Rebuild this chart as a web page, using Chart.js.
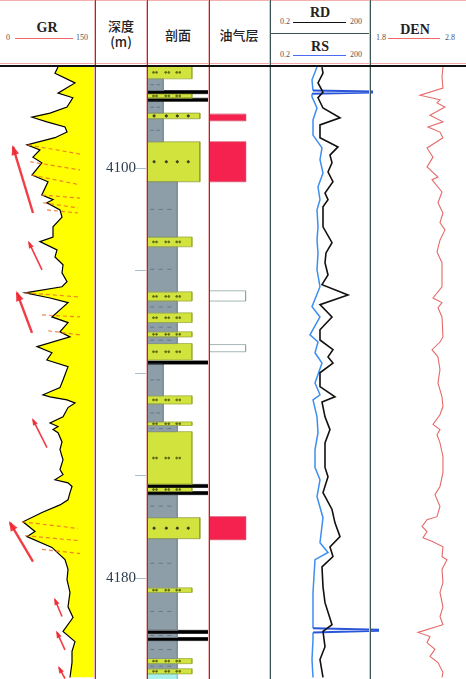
<!DOCTYPE html>
<html>
<head>
<meta charset="utf-8">
<script src="https://cdn.jsdelivr.net/npm/chart.js"></script>
<style>
html, body { margin: 0; padding: 0; background: #fff; }
#wrap { position: relative; width: 466px; height: 679px; overflow: hidden; background: #fff;
  font-family: "Noto Sans CJK SC", sans-serif; color: #222; }
.trk { position: absolute; top: 66px; }
.t { position: absolute; white-space: nowrap; transform: translate(-50%, -50%); line-height: 1; }
.lat { font-family: "Liberation Serif", serif; font-weight: bold; font-size: 14px; }
.num { font-family: "Liberation Serif", serif; font-size: 8px; color: #555; }
.cjk { font-size: 13px; font-weight: 500; }
.hl { position: absolute; height: 1px; }
.vl { position: absolute; top: 0; width: 1px; height: 679px; background: #3c5656; box-shadow: -1px 0 0 #f2b8b8; z-index: 5; }
</style>
</head>
<body>
<div id="wrap">
  <!-- header -->
  <div class="hl" style="left:0;top:0;width:466px;background:#f2b0b0"></div>
  <div class="t lat" style="left:47px;top:28px">GR</div>
  <div class="t num" style="left:8px;top:38px">0</div>
  <div class="hl" style="left:15px;top:38px;width:58px;background:#f06868"></div>
  <div class="t num" style="left:82px;top:38px">150</div>

  <div class="t cjk" style="left:121px;top:25px">深度</div>
  <div class="t cjk" style="left:121px;top:41px">(m)</div>
  <div class="t cjk" style="left:178px;top:34px">剖面</div>
  <div class="t cjk" style="left:239px;top:34px">油气层</div>

  <div class="t lat" style="left:320px;top:13px">RD</div>
  <div class="t num" style="left:285px;top:22px">0.2</div>
  <div class="hl" style="left:293px;top:22px;width:53px;background:#111"></div>
  <div class="t num" style="left:356px;top:22px">200</div>
  <div class="hl" style="left:270px;top:33px;width:100px;background:#3c5656"></div>
  <div class="t lat" style="left:320px;top:47px">RS</div>
  <div class="t num" style="left:285px;top:55px">0.2</div>
  <div class="hl" style="left:293px;top:55px;width:53px;background:#4a6cf0"></div>
  <div class="t num" style="left:356px;top:55px">200</div>

  <div class="t lat" style="left:415px;top:30px">DEN</div>
  <div class="t num" style="left:381px;top:38px">1.8</div>
  <div class="hl" style="left:388px;top:38px;width:52px;background:#f06868"></div>
  <div class="t num" style="left:450px;top:38px">2.8</div>

  <div class="hl" style="left:0;top:63px;width:466px;background:#f2a8a8"></div>
  <div class="hl" style="left:0;top:65px;width:466px;height:2px;background:#111;z-index:6"></div>

  <!-- tracks -->
  <div class="trk" style="left:0"><canvas id="gr" width="95" height="613"></canvas></div>
  <div class="trk" style="left:96px"><canvas id="dep" width="52" height="613"></canvas></div>
  <div class="trk" style="left:148px"><canvas id="lit" width="61" height="613"></canvas></div>
  <div class="trk" style="left:209px"><canvas id="oil" width="61" height="613"></canvas></div>
  <div class="trk" style="left:370px"><canvas id="den" width="96" height="613"></canvas></div>
  <div class="trk" style="left:270px"><canvas id="res" width="112" height="613"></canvas></div>

  <div class="vl" style="left:95px"></div>
  <div class="vl" style="left:147px"></div>
  <div class="vl" style="left:209px"></div>
  <div class="vl" style="left:270px"></div>
  <div class="vl" style="left:370px"></div>
</div>

<script>
// depth window and depth ticks
var depthMin = 4080, depthMax = 4199.7;
var depthTicks = [4100, 4120, 4140, 4160, 4180];
var depthLabels = [4100, 4180];

// GR curve (API)
var grDepth = [4080.2,4081.4,4083.3,4085.3,4086.2,4088.0,4089.2,4090.0,4090.9,4091.9,4092.9,4094.0,4095.4,4096.4,4097.8,4098.9,
  4101.3,4102.6,4105.2,4106.1,4106.7,4108.1,4109.5,4111.4,4113.4,4114.3,4115.9,4117.3,4118.8,4120.4,4122.1,4123.1,4124.3,4125.3,
  4126.2,4129.0,4130.1,4131.9,4132.9,4134.8,4136.0,4137.4,4138.7,4141.3,4142.8,4144.2,4144.6,4145.2,4145.8,4146.7,4148.5,4149.7,
  4150.4,4151.0,4151.6,4153.4,4154.9,4156.9,4158.8,4159.8,4160.8,4161.4,4162.1,4163.3,4164.7,4165.7,4167.2,4169.0,4170.9,4171.9,
  4174.0,4176.4,4178.3,4180.3,4182.8,4185.6,4187.7,4190.4,4192.4,4194.3,4196.5,4199.4];
var grValue = [91.6,86.8,118.4,91.6,115,105.8,79,50.5,74,102.6,105.8,86.8,42.6,63,52,66,
  50.5,75.8,66,83.7,74,94.7,97.9,83.7,83.7,63,90,86.8,99.5,97.9,105.8,97.9,39.5,79,
  107.4,82,107.4,94.7,110.5,58.4,82,74,107.4,99.5,94.7,67.9,79,105.8,118.4,107.4,99.5,79,
  91.6,83.7,91.6,97.9,94.7,99.5,94.7,99.5,86.8,107.4,113.7,110.5,107.4,94.7,66.3,36.3,55.3,42.6,
  82,102.6,107.4,105.8,110.5,107.4,115.3,99.5,118.4,113.7,113.7,110.5];

// dashed marker lines in the GR track (start / end)
var dashDepthA = [4095.4,4098.7,4101.3,4105.2,4106.7,4108.1,4124.3,4128.6,4131.7,4169.0,4171.7,4174.4];
var dashGrA    = [44.2,47.4,50.5,66.3,67.9,74.2,39.5,66.3,75.8,34.7,39.5,66.3];
var dashDepthB = [4097.2,4100.3,4103.2,4105.8,4107.7,4108.7,4125.1,4129.0,4132.5,4170.3,4172.7,4175.2];
var dashGrB    = [126.3,126.3,126.3,126.3,123.2,123.2,126.3,126.3,126.3,123.2,126.3,126.3];

// trend arrows in the GR track (tail -> head)
var arrowTailDepth = [4108.7,4119.8,4132.1,4154.5,4176.8,4187.5,4194.0,4199.6];
var arrowTailGr    = [52.1,66.3,50.5,74.2,52.1,97.9,102.6,102.6];
var arrowHeadDepth = [4095.8,4114.5,4124.3,4149.1,4169.2,4184.2,4190.6,4197.5];
var arrowHeadGr    = [20.5,45.8,26.8,52.1,15.8,86.8,90,93.2];
var arrowBig       = [1,0,1,0,1,0,0,0];

// resistivity (ohm.m)
var rdDepth = [4080.2,4081.4,4083.3,4085.1,4086.2,4088.2,4090.1,4091.5,4094.0,4095.8,4097.4,4098.9,4100.7,4102.6,4104.8,4106.1,
  4107.5,4111.4,4114.5,4116.5,4118.4,4120.8,4122.7,4124.7,4126.6,4129.0,4131.5,4133.5,4135.4,4136.8,4138.0,4139.9,4142.6,4144.6,
  4145.6,4148.5,4151.0,4153.6,4158.4,4160.2,4163.3,4166.6,4169.2,4171.9,4173.9,4175.8,4177.8,4181.7,4184.8,4189.1,4190.4,4193.4,
  4195.9,4199.4];
var rdValue = [7.26,7.78,5.51,7.78,5.51,7.78,25.2,6.32,6.32,21.9,12.6,14.5,11.0,15.5,8.93,11.0,
  7.78,7.78,14.5,9.57,8.93,11.0,7.26,43.8,6.32,14.5,6.32,6.32,15.5,11.0,15.5,6.32,6.32,17.8,
  7.26,8.93,12.6,8.93,8.93,11.0,7.78,14.5,17.8,25.2,12.6,15.5,7.26,7.78,8.93,14.5,7.78,8.93,
  6.32,7.78];
var rsDepth = [4080.2,4082.7,4084.8,4085.0,4085.2,4085.4,4086.0,4088.2,4090.5,4093.5,4096.0,4098.3,4100.9,4103.6,4106.1,4108.1,
  4111.4,4114.0,4116.5,4119.8,4123.1,4127.0,4129.0,4132.5,4133.9,4136.0,4138.0,4141.9,4144.2,4145.2,4148.5,4151.6,4154.9,4158.4,
  4160.8,4164.1,4168.2,4173.1,4175.0,4176.4,4182.8,4189.8,4190.1,4190.3,4190.6,4192.0,4195.9,4199.4];
var rsValue = [5.14,3.64,3.90,230,230,3.64,3.64,5.14,3.90,3.90,7.26,6.32,7.78,5.51,6.32,5.14,
  5.51,5.14,5.51,5.14,6.32,3.64,6.32,3.17,5.51,4.48,7.26,4.48,6.32,3.90,5.14,5.51,4.48,4.48,
  6.32,5.14,7.78,6.32,11.0,4.48,3.90,3.90,348,348,3.90,3.90,3.64,3.90];

// density (g/cm3)
var denDepth = [4080.2,4082.1,4084.3,4085.7,4086.6,4087.2,4088.0,4089.6,4090.9,4091.9,4092.9,4094.0,4096.0,4097.8,4099.7,4101.7,
  4102.2,4104.6,4106.7,4108.7,4110.6,4112.0,4114.0,4116.3,4118.4,4123.1,4125.3,4126.2,4127.2,4129.0,4132.9,4133.9,4135.4,4136.8,
  4139.3,4141.9,4144.6,4146.5,4148.1,4150.0,4151.0,4152.0,4153.6,4156.3,4159.4,4162.1,4163.7,4166.0,4168.0,4168.6,4169.9,4170.9,
  4172.1,4172.9,4173.9,4175.8,4176.4,4178.3,4180.9,4182.8,4185.6,4187.5,4189.1,4190.6,4191.4,4192.6,4193.9,4195.3,4196.5,4198.4,
  4199.4];
var denValue = [2.560,2.550,2.560,2.321,2.529,2.498,2.581,2.425,2.560,2.404,2.529,2.560,2.394,2.456,2.394,2.508,
  2.446,2.550,2.508,2.560,2.529,2.581,2.529,2.498,2.550,2.550,2.456,2.550,2.508,2.550,2.560,2.529,2.446,2.508,
  2.529,2.508,2.550,2.560,2.529,2.456,2.529,2.498,2.529,2.560,2.560,2.529,2.477,2.529,2.498,2.394,2.342,2.394,
  2.352,2.456,2.560,2.550,2.602,2.550,2.560,2.529,2.560,2.529,2.560,2.300,2.425,2.394,2.477,2.425,2.508,2.560,
  2.550];

// lithology column: s sand, o oil sand, n/m shale, c coal, q other
var litTop = [4080.0,4082.5,4084.8,4085.4,4086.3,4086.9,4089.2,4090.3,4094.8,4102.6,4113.4,4115.3,4124.1,4125.9,4128.2,4130.1,
  4131.9,4132.9,4134.2,4137.6,4138.2,4144.4,4146.0,4149.5,4150.2,4151.4,4161.7,4162.3,4163.1,4163.7,4168.2,4172.3,4181.9,4182.8,
  4190.2,4190.8,4191.6,4192.2,4195.7,4196.7,4197.7,4198.7];
var litBot = [4082.5,4084.8,4085.4,4086.3,4086.9,4089.2,4090.3,4094.8,4102.6,4113.4,4115.3,4124.1,4125.9,4128.2,4130.1,4131.9,
  4132.9,4134.2,4137.4,4138.2,4144.4,4146.0,4149.5,4150.2,4151.4,4161.7,4162.3,4163.1,4163.7,4168.2,4172.3,4181.9,4182.8,4190.2,
  4190.8,4191.6,4192.2,4195.7,4196.7,4197.7,4198.7,4200.0];
var litType = ['s','n','c','s','c','n','o','n','o','m','s','m','s','m','s','m',
  's','m','s','c','n','s','n','s','m','s','c','s','c','m','o','m','s','m',
  'c','m','c','m','s','m','s','q'];

// oil / gas layers
var oilTop = [4089.4,4094.8,4123.9,4134.4,4168.0];
var oilBot = [4090.7,4102.6,4125.9,4135.8,4172.5];
var oilType = ['oil','oil','dry','dry','oil'];

var litStyle = {
  s: { w: 72, fill: '#d3e33e', edge: '#9aab3a', marks: [9,14,29,34,47,52], mark: 'sand' },
  o: { w: 85, fill: '#d3e33e', edge: '#8a9c3a', marks: [10,30,48,66], mark: 'oil' },
  n: { w: 25, fill: '#8d9ea8', edge: '#7a8b95', marks: [7,17], mark: 'shale' },
  m: { w: 48, fill: '#8d9ea8', edge: '#7a8b95', marks: [7,21,35], mark: 'shale' },
  c: { w: 100, fill: '#000000', edge: '#000000', marks: [], mark: null },
  q: { w: 48, fill: '#a9f2ee', edge: '#88c8d0', marks: [], mark: null }
};
var oilStyle = {
  oil: { w: 60, fill: '#f5224f', edge: '#d8405e' },
  dry: { w: 60, fill: '#ffffff', edge: '#8fa3a3' }
};
var markStyle = {
  sand:  { pointStyle: 'circle', radius: 0.9, color: '#5d6b12' },
  oil:   { pointStyle: 'circle', radius: 1.1, color: '#3a3a20' },
  shale: { pointStyle: 'line', radius: 2, color: '#667985' }
};

function pts(ds, vs) {
  return ds.map(function (d, i) { return { x: vs[i], y: d }; });
}

function opts(xScale) {
  return {
    indexAxis: 'y',
    responsive: false,
    animation: false,
    events: [],
    layout: { padding: 0, autoPadding: false },
    plugins: { legend: { display: false }, tooltip: { enabled: false } },
    elements: { point: { radius: 0 }, line: { tension: 0 } },
    scales: {
      x: Object.assign({ display: false }, xScale),
      y: { type: 'linear', display: false, reverse: true, min: depthMin, max: depthMax }
    }
  };
}

// boxes as filled line segments back to x = 0, plus outlines
function boxSets(tops, bots, types, styles) {
  var sets = [];
  tops.forEach(function (t, i) {
    var st = styles[types[i]], b = bots[i];
    sets.push({ data: [{ x: st.w, y: t }, { x: st.w, y: b }], fill: { value: 0 },
      backgroundColor: st.fill, borderWidth: 0, pointRadius: 0, order: 3 });
    sets.push({ data: [{ x: 0, y: t }, { x: st.w, y: t }, { x: st.w, y: b }, { x: 0, y: b }],
      fill: false, borderColor: st.edge, borderWidth: 0.8, pointRadius: 0, order: 2 });
  });
  return sets;
}

function markSets() {
  var groups = { sand: [], oil: [], shale: [] };
  litTop.forEach(function (t, i) {
    var st = litStyle[litType[i]];
    if (!st.mark) return;
    var mid = (t + litBot[i]) / 2;
    st.marks.forEach(function (x) { groups[st.mark].push({ x: x, y: mid }); });
  });
  return Object.keys(groups).map(function (k) {
    var m = markStyle[k];
    return { data: groups[k], showLine: false, pointStyle: m.pointStyle, pointRadius: m.radius,
      pointBorderColor: m.color, pointBackgroundColor: m.color, pointBorderWidth: 1, order: 1 };
  });
}

var arrowHeads = {
  id: 'arrowHeads',
  afterDatasetsDraw: function (chart) {
    var ctx = chart.ctx;
    chart.data.datasets.forEach(function (ds, i) {
      if (!ds.arrow) return;
      var p = chart.getDatasetMeta(i).data, a = p[0], b = p[1];
      var ang = Math.atan2(b.y - a.y, b.x - a.x), L = ds.headLen;
      ctx.save();
      ctx.fillStyle = ds.borderColor;
      ctx.beginPath();
      ctx.moveTo(b.x + Math.cos(ang) * 2, b.y + Math.sin(ang) * 2);
      ctx.lineTo(b.x - L * Math.cos(ang - 0.45), b.y - L * Math.sin(ang - 0.45));
      ctx.lineTo(b.x - L * Math.cos(ang + 0.45), b.y - L * Math.sin(ang + 0.45));
      ctx.closePath();
      ctx.fill();
      ctx.restore();
    });
  }
};

// GR track
var grSets = [{ data: pts(grDepth, grValue), borderColor: '#000', borderWidth: 1.2,
  fill: { value: 150 }, backgroundColor: '#ffff00', order: 3 }];
dashDepthA.forEach(function (d, i) {
  grSets.push({ data: [{ x: dashGrA[i], y: d }, { x: dashGrB[i], y: dashDepthB[i] }],
    borderColor: 'rgba(238,112,40,0.85)', borderWidth: 1.2, borderDash: [4, 3], fill: false, order: 2 });
});
arrowTailDepth.forEach(function (d, i) {
  grSets.push({ data: [{ x: arrowTailGr[i], y: d }, { x: arrowHeadGr[i], y: arrowHeadDepth[i] }],
    borderColor: 'rgba(240,40,50,0.9)', borderWidth: arrowBig[i] ? 2.4 : 1.6, fill: false,
    arrow: true, headLen: arrowBig[i] ? 9 : 6, order: 1 });
});
new Chart(document.getElementById('gr'), {
  type: 'line', data: { datasets: grSets },
  options: opts({ type: 'linear', min: 0, max: 150 }), plugins: [arrowHeads]
});

// depth track
var depOpts = opts({ type: 'linear', min: 0, max: 1 });
depOpts.scales.y = {
  type: 'linear', reverse: true, min: depthMin, max: depthMax, position: 'right',
  afterBuildTicks: function (s) { s.ticks = depthTicks.map(function (v) { return { value: v }; }); },
  afterFit: function (s) { s.paddingTop = 0; s.paddingBottom = 0; s.width = 13; },
  ticks: { mirror: true, padding: 1, autoSkip: false, color: '#2d3d4d',
    font: { family: 'Liberation Serif', size: 15 },
    callback: function (v) { return depthLabels.indexOf(v) >= 0 ? String(v) : ''; } },
  grid: { drawOnChartArea: false, drawTicks: true, tickLength: 13, color: '#a9bfcf' },
  border: { display: false }
};
new Chart(document.getElementById('dep'), { type: 'line', data: { datasets: [] }, options: depOpts });

// lithology
new Chart(document.getElementById('lit'), {
  type: 'line', data: { datasets: boxSets(litTop, litBot, litType, litStyle).concat(markSets()) },
  options: opts({ type: 'linear', min: 0, max: 100 })
});

// oil layers
new Chart(document.getElementById('oil'), {
  type: 'line', data: { datasets: boxSets(oilTop, oilBot, oilType, oilStyle) },
  options: opts({ type: 'linear', min: 0, max: 100 })
});

// resistivity
var resOpts = opts({ type: 'logarithmic', min: 0.2, max: 200 });
resOpts.layout = { padding: { right: 12 }, autoPadding: false };
new Chart(document.getElementById('res'), {
  type: 'line',
  data: { datasets: [
    { data: pts(rdDepth, rdValue), borderColor: '#111', borderWidth: 1.6, fill: false },
    { data: pts(rsDepth, rsValue), borderColor: '#3d8ef0', borderWidth: 1.5, fill: false,
      segment: { borderColor: function (c) { return (c.p0.parsed.x > 100 || c.p1.parsed.x > 100) ? '#2a55d8' : undefined; },
        borderWidth: function (c) { return (c.p0.parsed.x > 100 || c.p1.parsed.x > 100) ? 2 : undefined; } },
      clip: { left: 0, top: 0, right: 12, bottom: 0 } }
  ] },
  options: resOpts
});

// density
new Chart(document.getElementById('den'), {
  type: 'line',
  data: { datasets: [{ data: pts(denDepth, denValue), borderColor: '#e46a6a', borderWidth: 1.1, fill: false }] },
  options: opts({ type: 'linear', min: 1.8, max: 2.8 })
});
</script>
</body>
</html>
